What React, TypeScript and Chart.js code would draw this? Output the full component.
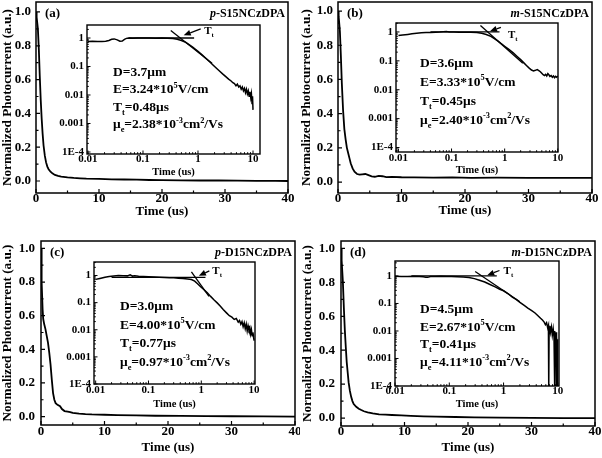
import { useEffect, useRef } from 'react';
import { Chart, registerables } from 'chart.js';

Chart.register(...registerables);

const FONT = '"Liberation Serif", "Times New Roman", Times, serif';

// ---------------- tick labels ----------------
const mainXTicks = [0, 10, 20, 30, 40];
const mainYTicks = [0, 0.2, 0.4, 0.6, 0.8, 1.0];
const insetXTicks = [0.01, 0.1, 1, 10];
const insetXLabels = ['0.01', '0.1', '1', '10'];
const insetYTicks = [0.0001, 0.001, 0.01, 0.1, 1];
const insetYLabels = ['1E-4', '0.001', '0.01', '0.1', '1'];

// ---------------- texts ----------------
const panelLetters = ['(a)', '(b)', '(c)', '(d)'];
const samplePrefixes = ['p', 'm', 'p', 'm'];
const sampleNames = ['-S15NCzDPA', '-S15NCzDPA', '-D15NCzDPA', '-D15NCzDPA'];
const thickness = ['3.7', '3.6', '3.0', '4.5'];
const fields = ['3.24', '3.33', '4.00', '2.67'];
const transitTimes = ['0.48', '0.45', '0.77', '0.41'];
const mobilities = ['2.38', '2.40', '0.97', '4.11'];

// ---------------- panel (a) ----------------
const aMainT = [0, 0.05, 0.15, 0.3, 0.45, 0.6, 0.75, 0.9, 1.05, 1.2, 1.4, 1.6, 1.8, 2.0, 2.3, 2.6, 3.0, 3.5, 4.0, 5.0, 6, 7, 8, 10, 12, 14, 16, 18, 20, 23, 26, 29, 32, 35, 38, 40];
const aMainI = [0.95, 1.0, 0.97, 0.9, 0.78, 0.62, 0.48, 0.37, 0.28, 0.21, 0.15, 0.11, 0.085, 0.07, 0.055, 0.045, 0.036, 0.03, 0.026, 0.021, 0.018, 0.016, 0.014, 0.012, 0.01, 0.009, 0.008, 0.006, 0.005, 0.004, 0.003, 0.003, 0.002, 0.001, 0.001, 0.0];
const aInsetT = [0.01, 0.012, 0.015, 0.018, 0.021, 0.024, 0.027, 0.03, 0.034, 0.038, 0.042, 0.046, 0.05, 0.055, 0.065, 0.08, 0.1, 0.13, 0.17, 0.22, 0.28, 0.35, 0.42, 0.5, 0.6, 0.7, 0.8, 0.9, 1.0, 1.2, 1.4, 1.7, 2.0, 2.4, 2.8, 3.2, 3.6, 4.0, 4.3, 4.6, 4.9, 5.2, 5.5, 5.8, 6.1, 6.4, 6.7, 7.0, 7.3, 7.6, 7.9, 8.2, 8.5, 8.8, 9.1, 9.35, 9.6, 9.8, 10];
const aInsetI = [0.76, 0.77, 0.76, 0.75, 0.77, 0.82, 0.9, 0.93, 0.86, 0.77, 0.78, 0.9, 0.97, 1.0, 0.99, 1.0, 1.01, 1.0, 0.99, 1.0, 0.98, 0.96, 0.91, 0.82, 0.7, 0.58, 0.48, 0.4, 0.34, 0.25, 0.19, 0.135, 0.1, 0.072, 0.055, 0.044, 0.036, 0.031, 0.027, 0.025, 0.021, 0.024, 0.019, 0.021, 0.016, 0.019, 0.014, 0.017, 0.012, 0.016, 0.011, 0.014, 0.009, 0.013, 0.008, 0.011, 0.005, 0.009, 0.003];
const aFlatT = [0.055, 0.85];
const aFlatI = [1, 1];
const aSlopeT = [0.32, 1.8];
const aSlopeI = [1.85, 0.13];
const aArrowT = [1.12, 0.55];
const aArrowI = [2.1, 1.25];
const aTtAt = [1.3, 1.9];

// ---------------- panel (b) ----------------
const bMainT = [0, 0.05, 0.15, 0.3, 0.45, 0.6, 0.8, 1.0, 1.2, 1.4, 1.6, 1.8, 2.0, 2.3, 2.6, 3.0, 3.4, 3.8, 4.3, 4.8, 5.3, 5.8, 6.4, 7.0, 7.6, 8.5, 10, 12, 15, 18, 21, 25, 30, 35, 40];
const bMainI = [0.93, 1.0, 0.97, 0.88, 0.74, 0.58, 0.42, 0.31, 0.25, 0.2, 0.17, 0.14, 0.11, 0.08, 0.06, 0.047, 0.043, 0.045, 0.047, 0.04, 0.033, 0.031, 0.036, 0.034, 0.029, 0.03, 0.028, 0.027, 0.026, 0.027, 0.025, 0.026, 0.024, 0.025, 0.024];
const bInsetT = [0.01, 0.012, 0.015, 0.018, 0.022, 0.027, 0.033, 0.04, 0.05, 0.06, 0.07, 0.08, 0.09, 0.11, 0.14, 0.18, 0.23, 0.3, 0.37, 0.45, 0.55, 0.65, 0.75, 0.85, 1.0, 1.2, 1.45, 1.7, 2.0, 2.3, 2.6, 2.9, 3.2, 3.5, 3.8, 4.1, 4.4, 4.7, 5.0, 5.3, 5.6, 5.9, 6.2, 6.5, 6.8, 7.1, 7.5, 7.9, 8.3, 8.7, 9.1, 9.5, 10];
const bInsetI = [0.75, 0.78, 0.82, 0.86, 0.9, 0.93, 0.95, 0.96, 0.98, 0.99, 1.02, 1.04, 1.0, 0.99, 0.98, 0.98, 0.97, 0.95, 0.9, 0.82, 0.7, 0.58, 0.48, 0.4, 0.32, 0.25, 0.19, 0.145, 0.11, 0.085, 0.068, 0.056, 0.048, 0.045, 0.047, 0.05, 0.046, 0.042, 0.037, 0.033, 0.031, 0.034, 0.03, 0.036, 0.033, 0.029, 0.031, 0.027, 0.03, 0.026, 0.029, 0.027, 0.03];
const bFlatT = [0.04, 0.8];
const bFlatI = [1, 1];
const bSlopeT = [0.35, 2.2];
const bSlopeI = [1.68, 0.082];
const bArrowT = [0.85, 0.53];
const bArrowI = [1.45, 1.06];
const bTtAt = [1.15, 0.88];

// ---------------- panel (c) ----------------
const cMainT = [0, 0.05, 0.15, 0.25, 0.35, 0.5, 0.7, 0.9, 1.1, 1.3, 1.5, 1.7, 1.9, 2.1, 2.3, 2.6, 3.0, 3.3, 3.7, 4.2, 4.6, 5.0, 6, 7, 8, 10, 12, 15, 18, 22, 26, 30, 35, 40];
const cMainI = [0.85, 1.0, 0.8, 0.64, 0.58, 0.55, 0.52, 0.48, 0.44, 0.38, 0.31, 0.22, 0.14, 0.1, 0.08, 0.07, 0.062, 0.045, 0.033, 0.03, 0.027, 0.022, 0.018, 0.015, 0.013, 0.011, 0.009, 0.007, 0.005, 0.004, 0.003, 0.002, 0.001, 0.0];
const cInsetT = [0.01, 0.012, 0.015, 0.018, 0.022, 0.027, 0.033, 0.04, 0.045, 0.05, 0.055, 0.065, 0.08, 0.1, 0.13, 0.16, 0.2, 0.25, 0.3, 0.37, 0.45, 0.55, 0.65, 0.75, 0.85, 0.95, 1.1, 1.3, 1.5, 1.75, 2.0, 2.3, 2.6, 3.0, 3.4, 3.8, 4.2, 4.6, 5.0, 5.3, 5.6, 5.9, 6.2, 6.5, 6.8, 7.1, 7.4, 7.7, 8.0, 8.3, 8.6, 8.9, 9.2, 9.5, 9.8, 10];
const cInsetI = [0.72, 0.78, 0.86, 0.92, 0.96, 1.0, 0.99, 0.97, 1.06, 0.95, 0.97, 0.94, 0.92, 0.9, 0.88, 0.86, 0.84, 0.82, 0.82, 0.8, 0.78, 0.75, 0.71, 0.62, 0.5, 0.4, 0.31, 0.23, 0.17, 0.125, 0.098, 0.074, 0.056, 0.042, 0.033, 0.029, 0.024, 0.026, 0.019, 0.022, 0.016, 0.02, 0.013, 0.018, 0.011, 0.016, 0.009, 0.014, 0.01, 0.012, 0.007, 0.01, 0.006, 0.008, 0.005, 0.004];
const cFlatT = [0.02, 1.2];
const cFlatI = [0.85, 0.85];
const cSlopeT = [0.65, 1.4];
const cSlopeI = [1.35, 0.17];
const cArrowT = [1.42, 0.9];
const cArrowI = [1.48, 0.98];
const cTtAt = [1.62, 1.6];

// ---------------- panel (d) ----------------
const dMainT = [0, 0.05, 0.15, 0.3, 0.45, 0.6, 0.75, 0.9, 1.05, 1.2, 1.4, 1.6, 1.8, 2.0, 2.4, 2.8, 3.2, 3.6, 4.2, 5.0, 6, 7, 8, 9.5, 11, 13, 15, 18, 21, 25, 30, 35, 40];
const dMainI = [0.9, 1.0, 0.93, 0.8, 0.65, 0.52, 0.42, 0.33, 0.27, 0.21, 0.16, 0.125, 0.1, 0.082, 0.066, 0.055, 0.047, 0.04, 0.034, 0.028, 0.022, 0.02, 0.018, 0.016, 0.013, 0.01, 0.008, 0.006, 0.004, 0.002, 0.001, 0.0, 0.0];
const dInsetT = [0.01, 0.013, 0.017, 0.022, 0.028, 0.033, 0.037, 0.04, 0.045, 0.055, 0.07, 0.09, 0.11, 0.14, 0.18, 0.23, 0.29, 0.36, 0.45, 0.55, 0.7, 0.85, 1.0, 1.2, 1.45, 1.7, 2.0, 2.4, 2.8, 3.3, 3.8, 4.3, 4.8, 5.2, 5.6, 5.9, 6.2, 6.5, 6.7, 6.8, 6.9, 7.1, 7.3, 7.6, 7.9, 8.2, 8.5, 8.7, 8.8, 8.9, 9.1, 9.3, 9.4, 9.5, 9.7, 9.8, 9.9, 10];
const dInsetI = [0.97, 0.96, 0.95, 0.97, 0.96, 0.94, 0.9, 0.89, 0.96, 0.95, 0.97, 0.95, 0.96, 0.94, 0.92, 0.88, 0.8, 0.7, 0.6, 0.5, 0.4, 0.33, 0.29, 0.23, 0.17, 0.14, 0.11, 0.085, 0.068, 0.055, 0.045, 0.036, 0.029, 0.025, 0.021, 0.017, 0.02, 0.013, 0.016, 0.00008, 0.012, 0.015, 0.009, 0.014, 0.007, 0.012, 0.006, 0.01, 0.00008, 0.008, 0.004, 0.009, 0.00008, 0.006, 0.003, 0.00008, 0.005, 0.002];
const dFlatT = [0.02, 0.75];
const dFlatI = [1, 1];
const dSlopeT = [0.3, 2.0];
const dSlopeI = [1.46, 0.115];
const dArrowT = [0.84, 0.5];
const dArrowI = [1.58, 1.06];
const dTtAt = [1.0, 1.65];

// ---------------- assembled tables ----------------
const SERIES = [
  { mainT: aMainT, mainI: aMainI, insT: aInsetT, insI: aInsetI, flatT: aFlatT, flatI: aFlatI, slopeT: aSlopeT, slopeI: aSlopeI, arrT: aArrowT, arrI: aArrowI, tt: aTtAt },
  { mainT: bMainT, mainI: bMainI, insT: bInsetT, insI: bInsetI, flatT: bFlatT, flatI: bFlatI, slopeT: bSlopeT, slopeI: bSlopeI, arrT: bArrowT, arrI: bArrowI, tt: bTtAt },
  { mainT: cMainT, mainI: cMainI, insT: cInsetT, insI: cInsetI, flatT: cFlatT, flatI: cFlatI, slopeT: cSlopeT, slopeI: cSlopeI, arrT: cArrowT, arrI: cArrowI, tt: cTtAt },
  { mainT: dMainT, mainI: dMainI, insT: dInsetT, insI: dInsetI, flatT: dFlatT, flatI: dFlatI, slopeT: dSlopeT, slopeI: dSlopeI, arrT: dArrowT, arrI: dArrowI, tt: dTtAt },
];

// layout (absolute page pixels)
const LAYOUT = [
  {
    main: { x: 0, y: 0, w: 300, h: 228, l: 36, r: 288, t: 2, b: 193, yMin: -0.071, yMax: 1.059, xTickY: 199, xTitleY: 212, yTitleX: 8, yGap: 5 },
    inset: { l: 87, r: 260, t: 25, b: 154, xMin: 0.0096, xMax: 13.4, yMin: 8.5e-5, yMax: 2.86, xTickY: 159, xTitleY: 172, yGap: 3, tx: 26, ty: 46, tdy: 17.5 },
  },
  {
    main: { x: 300, y: 0, w: 302, h: 228, l: 338, r: 592, t: 2, b: 193, yMin: -0.064, yMax: 1.053, xTickY: 199, xTitleY: 211, yTitleX: 307, yGap: 5 },
    inset: { l: 396, r: 558, t: 23, b: 152, xMin: 0.009, xMax: 10.1, yMin: 7.3e-5, yMax: 2.04, xTickY: 158, xTitleY: 170, yGap: 3, tx: 24, ty: 39, tdy: 19 },
  },
  {
    main: { x: 0, y: 228, w: 300, h: 230, l: 41, r: 295, t: 241, b: 425, yMin: -0.05, yMax: 1.044, xTickY: 432, xTitleY: 448, yTitleX: 8, yGap: 6 },
    inset: { l: 94, r: 255, t: 262, b: 384, xMin: 0.0093, xMax: 10.4, yMin: 1e-4, yMax: 3.15, xTickY: 390, xTitleY: 404, yGap: 3, tx: 26, ty: 43, tdy: 18.7 },
  },
  {
    main: { x: 300, y: 228, w: 302, h: 230, l: 341, r: 595, t: 241, b: 426, yMin: -0.047, yMax: 1.044, xTickY: 432, xTitleY: 448, yTitleX: 308, yGap: 6 },
    inset: { l: 395, r: 559, t: 261, b: 386, xMin: 0.01, xMax: 10.5, yMin: 1e-4, yMax: 3.5, xTickY: 391, xTitleY: 404, yGap: 3, tx: 25, ty: 47, tdy: 17.7 },
  },
];

function insetBox(L: any) {
  return { x: L.l - 38, y: L.t - 8, w: L.r - L.l + 46, h: L.b - L.t + 36 };
}

type Seg = [string, number];

function drawRich(ctx: CanvasRenderingContext2D, segs: Seg[], x: number, y: number, size: number) {
  let cx = x;
  ctx.textAlign = 'left';
  ctx.textBaseline = 'alphabetic';
  for (const [t, k] of segs) {
    const s = k === 0 ? size : size * 0.62;
    ctx.font = `bold ${s}px ${FONT}`;
    const dy = k > 0 ? -size * 0.42 : k < 0 ? size * 0.28 : 0;
    ctx.fillText(t, cx, y + dy);
    cx += ctx.measureText(t).width;
  }
}

function pts(T: number[], I: number[]) {
  return T.map((t, i) => ({ x: t, y: I[i] }));
}

function fixedAxis(size: number, horizontal: boolean) {
  return (s: any) => {
    if (horizontal) s.height = size; else s.width = size;
    s.paddingLeft = 0; s.paddingRight = 0; s.paddingTop = 0; s.paddingBottom = 0;
  };
}

function makeMain(canvas: HTMLCanvasElement, idx: number) {
  const L = LAYOUT[idx].main;
  const S = SERIES[idx];
  const tickSize = 13, titleSize = 13, yTitleSize = 13.2;
  const tickLH = tickSize * 1.2, titleLH = titleSize * 1.2, yTitleLH = yTitleSize * 1.2;
  const plugin = {
    id: 'mainDecor' + idx,
    afterDraw(chart: any) {
      const { ctx, chartArea: a } = chart;
      const xs = chart.scales.x, ys = chart.scales.y;
      ctx.save();
      ctx.strokeStyle = '#000';
      ctx.lineWidth = 1.5;
      ctx.strokeRect(a.left, a.top, a.right - a.left, a.bottom - a.top);
      ctx.lineWidth = 1.2;
      ctx.beginPath();
      for (let v = 0; v <= 40; v += 5) {
        const px = xs.getPixelForValue(v);
        const len = v % 10 === 0 ? 4 : 2.5;
        ctx.moveTo(px, a.bottom); ctx.lineTo(px, a.bottom - len);
      }
      for (let k = 0; k <= 10; k++) {
        const py = ys.getPixelForValue(k / 10);
        const len = k % 2 === 0 ? 4 : 2.5;
        ctx.moveTo(a.left, py); ctx.lineTo(a.left + len, py);
      }
      ctx.stroke();
      ctx.fillStyle = '#000';
      ctx.textBaseline = 'middle';
      ctx.textAlign = 'left';
      ctx.font = `bold 13px ${FONT}`;
      ctx.fillText(panelLetters[idx], a.left + 9, a.top + 12);
      ctx.font = `bold 12px ${FONT}`;
      const rest = sampleNames[idx];
      const rw = ctx.measureText(rest).width;
      const rx = a.right - 3;
      ctx.textAlign = 'right';
      ctx.fillText(rest, rx, a.top + 12);
      ctx.font = `bold italic 12px ${FONT}`;
      ctx.fillText(samplePrefixes[idx], rx - rw, a.top + 12);
      ctx.restore();
    },
  };
  return new Chart(canvas, {
    type: 'line',
    data: {
      datasets: [{ data: pts(S.mainT, S.mainI), borderColor: '#000', borderWidth: 1.8, pointRadius: 0, tension: 0, fill: false }],
    },
    options: {
      animation: false,
      responsive: false,
      maintainAspectRatio: false,
      devicePixelRatio: 1,
      events: [],
      layout: { autoPadding: false, padding: { left: 0, top: L.t - L.y, right: L.x + L.w - L.r, bottom: 0 } },
      plugins: { legend: { display: false }, tooltip: { enabled: false }, title: { display: false } },
      scales: {
        x: {
          type: 'linear', min: 0, max: 40,
          grid: { display: false, drawTicks: false }, border: { display: false },
          afterBuildTicks: (s: any) => { s.ticks = mainXTicks.map((v) => ({ value: v })); },
          afterFit: fixedAxis(L.y + L.h - L.b, true),
          ticks: { autoSkip: false, maxRotation: 0, minRotation: 0, padding: L.xTickY - L.b - tickLH / 2, color: '#000', font: { family: FONT, size: tickSize, weight: 'bold' }, callback: (v: any) => String(v) },
          title: { display: true, text: 'Time (us)', color: '#000', font: { family: FONT, size: titleSize, weight: 'bold' }, padding: { top: 0, bottom: L.y + L.h - L.xTitleY - titleLH / 2 } },
        },
        y: {
          type: 'linear', min: L.yMin, max: L.yMax,
          grid: { display: false, drawTicks: false }, border: { display: false },
          afterBuildTicks: (s: any) => { s.ticks = mainYTicks.map((v) => ({ value: v })); },
          afterFit: fixedAxis(L.l - L.x, false),
          ticks: { autoSkip: false, padding: L.yGap, color: '#000', font: { family: FONT, size: tickSize, weight: 'bold' }, callback: (v: any) => Number(v).toFixed(1) },
          title: { display: true, text: 'Normalized Photocurrent (a.u.)', color: '#000', font: { family: FONT, size: yTitleSize, weight: 'bold' }, padding: { top: L.yTitleX - L.x - yTitleLH / 2, bottom: 0 } },
        },
      },
    } as any,
    plugins: [plugin],
  });
}

function makeInset(canvas: HTMLCanvasElement, idx: number) {
  const L = LAYOUT[idx].inset;
  const B = insetBox(L);
  const S = SERIES[idx];
  const tickSize = 11, titleSize = 10.5;
  const tickLH = tickSize * 1.2, titleLH = titleSize * 1.2;
  const lines: Seg[][] = [
    [['D=' + thickness[idx] + 'μm', 0]],
    [['E=' + fields[idx] + '*10', 0], ['5', 1], ['V/cm', 0]],
    [['T', 0], ['t', -1], ['=' + transitTimes[idx] + 'μs', 0]],
    [['μ', 0], ['e', -1], ['=' + mobilities[idx] + '*10', 0], ['-3', 1], ['cm', 0], ['2', 1], ['/Vs', 0]],
  ];
  const plugin = {
    id: 'insetDecor' + idx,
    beforeDraw(chart: any) {
      const { ctx, chartArea: a } = chart;
      ctx.save();
      ctx.fillStyle = '#fff';
      ctx.fillRect(a.left, a.top, a.right - a.left, a.bottom - a.top);
      ctx.restore();
    },
    afterDraw(chart: any) {
      const { ctx, chartArea: a } = chart;
      const xs = chart.scales.x, ys = chart.scales.y;
      ctx.save();
      ctx.strokeStyle = '#000';
      ctx.fillStyle = '#000';
      ctx.lineWidth = 1.4;
      ctx.strokeRect(a.left, a.top, a.right - a.left, a.bottom - a.top);
      ctx.lineWidth = 1;
      ctx.beginPath();
      for (let e = -5; e <= 1; e++) {
        for (let m = 1; m <= 9; m++) {
          const v = m * Math.pow(10, e);
          const len = m === 1 ? 3.5 : 1.8;
          if (v >= L.xMin && v <= L.xMax) {
            const px = xs.getPixelForValue(v);
            ctx.moveTo(px, a.bottom); ctx.lineTo(px, a.bottom - len);
          }
          if (v >= L.yMin && v <= L.yMax) {
            const py = ys.getPixelForValue(v);
            ctx.moveTo(a.left, py); ctx.lineTo(a.left + len, py);
          }
        }
      }
      ctx.stroke();
      // arrow
      const x0 = xs.getPixelForValue(S.arrT[0]), y0 = ys.getPixelForValue(S.arrI[0]);
      const x1 = xs.getPixelForValue(S.arrT[1]), y1 = ys.getPixelForValue(S.arrI[1]);
      const ang = Math.atan2(y1 - y0, x1 - x0);
      const hl = 7, hw = 3;
      const bx = x1 - hl * Math.cos(ang), by = y1 - hl * Math.sin(ang);
      ctx.lineWidth = 1.3;
      ctx.beginPath(); ctx.moveTo(x0, y0); ctx.lineTo(bx, by); ctx.stroke();
      ctx.beginPath();
      ctx.moveTo(x1, y1);
      ctx.lineTo(bx + hw * Math.sin(ang), by - hw * Math.cos(ang));
      ctx.lineTo(bx - hw * Math.sin(ang), by + hw * Math.cos(ang));
      ctx.closePath(); ctx.fill();
      // Tt label
      drawRich(ctx, [['T', 0], ['t', -1]], xs.getPixelForValue(S.tt[0]), ys.getPixelForValue(S.tt[1]) + 4, 11);
      // annotation block
      lines.forEach((segs, k) => {
        drawRich(ctx, segs, a.left + L.tx, a.top + L.ty + k * L.tdy + 4.8, 13.5);
      });
      ctx.restore();
    },
  };
  const ds = (T: number[], I: number[], w: number) => ({ data: pts(T, I), borderColor: '#000', borderWidth: w, pointRadius: 0, tension: 0, fill: false });
  return new Chart(canvas, {
    type: 'line',
    data: { datasets: [ds(S.insT, S.insI, 1.5), ds(S.flatT, S.flatI, 1.3), ds(S.slopeT, S.slopeI, 1.3)] },
    options: {
      animation: false,
      responsive: false,
      maintainAspectRatio: false,
      devicePixelRatio: 1,
      events: [],
      layout: { autoPadding: false, padding: { left: 0, top: L.t - B.y, right: B.x + B.w - L.r, bottom: 0 } },
      plugins: { legend: { display: false }, tooltip: { enabled: false }, title: { display: false } },
      scales: {
        x: {
          type: 'logarithmic', min: L.xMin, max: L.xMax,
          grid: { display: false, drawTicks: false }, border: { display: false },
          afterBuildTicks: (s: any) => { s.ticks = insetXTicks.map((v) => ({ value: v, major: true })); },
          afterFit: fixedAxis(B.y + B.h - L.b, true),
          ticks: { autoSkip: false, maxRotation: 0, minRotation: 0, padding: L.xTickY - L.b - tickLH / 2, color: '#000', font: { family: FONT, size: tickSize, weight: 'bold' }, callback: (v: any) => insetXLabels[insetXTicks.indexOf(v)] ?? '' },
          title: { display: true, text: 'Time (us)', color: '#000', font: { family: FONT, size: titleSize, weight: 'bold' }, padding: { top: 0, bottom: B.y + B.h - L.xTitleY - titleLH / 2 } },
        },
        y: {
          type: 'logarithmic', min: L.yMin, max: L.yMax,
          grid: { display: false, drawTicks: false }, border: { display: false },
          afterBuildTicks: (s: any) => { s.ticks = insetYTicks.map((v) => ({ value: v, major: true })); },
          afterFit: fixedAxis(L.l - B.x, false),
          ticks: { autoSkip: false, padding: L.yGap, color: '#000', font: { family: FONT, size: tickSize, weight: 'bold' }, callback: (v: any) => insetYLabels[insetYTicks.indexOf(v)] ?? '' },
        },
      },
    } as any,
    plugins: [plugin],
  });
}

export default function App() {
  const refs = useRef<(HTMLCanvasElement | null)[]>([]);
  useEffect(() => {
    const charts: Chart[] = [];
    LAYOUT.forEach((_, i) => {
      const m = refs.current[2 * i];
      const n = refs.current[2 * i + 1];
      if (m) charts.push(makeMain(m, i));
      if (n) charts.push(makeInset(n, i));
    });
    return () => charts.forEach((c) => c.destroy());
  }, []);
  return (
    <div style={{ position: 'absolute', left: 0, top: 0, width: 602, height: 458, background: '#fff', overflow: 'hidden' }}>
      {LAYOUT.map((P, i) => {
        const B = insetBox(P.inset);
        return [
          <canvas
            key={'m' + i}
            ref={(el) => { refs.current[2 * i] = el; }}
            width={P.main.w}
            height={P.main.h}
            style={{ position: 'absolute', left: P.main.x, top: P.main.y, width: P.main.w, height: P.main.h }}
          />,
          <canvas
            key={'i' + i}
            ref={(el) => { refs.current[2 * i + 1] = el; }}
            width={B.w}
            height={B.h}
            style={{ position: 'absolute', left: B.x, top: B.y, width: B.w, height: B.h }}
          />,
        ];
      })}
    </div>
  );
}
